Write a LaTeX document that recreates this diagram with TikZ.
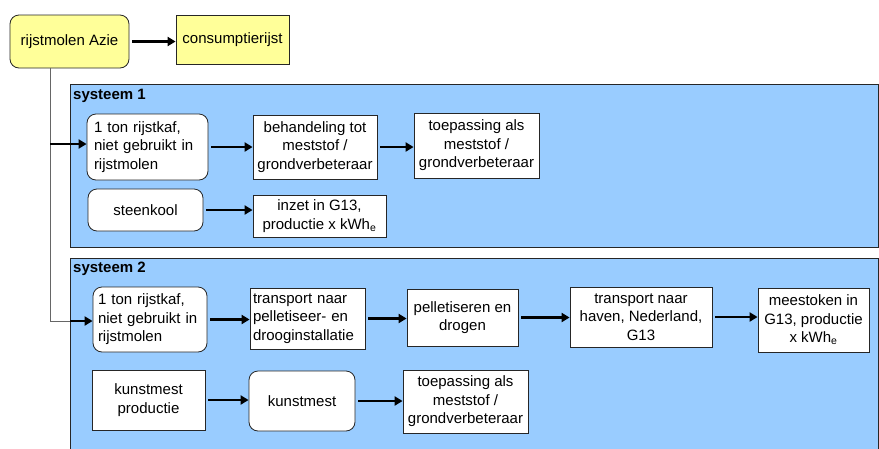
\documentclass[tikz,border=0pt]{standalone}
\usepackage{fontspec}
\setmainfont{Liberation Sans}
\definecolor{molen}{RGB}{255, 255, 153}
\definecolor{sys}{RGB}{153, 204, 255}
\usetikzlibrary{arrows.meta}
\usetikzlibrary{calc}

\tikzset{
    stap/.style={draw=black!85, line width=0.8pt, fill=white, align=center,
        inner sep=2pt, font=\fontsize{15}{18.5}\selectfont},
    rstap/.style={stap, rounded corners=9pt},
    pijl/.style={line width=2.6pt, -{Triangle[length=8pt,width=9pt]}, shorten <=3pt},
    kop/.style={anchor=west, inner sep=0pt, font=\fontsize{15}{18}\selectfont\bfseries}
}

\begin{document}
\begin{tikzpicture}[x=1pt,y=-1pt]
	\clip (0,0) rectangle (879,448);
	\fill[white] (0,0) rectangle (879,448);
	
	% systeemkaders
	\filldraw[fill=sys,draw=black!85,line width=0.8pt] (70,84) rectangle (878,247);
	\filldraw[fill=sys,draw=black!85,line width=0.8pt] (70,258) rectangle (878,470);
	\node[kop] (kop1) at (73,96) {systeem 1};
	\node[kop] (kop2) at (73,269) {systeem 2};
	
	\node[rstap,fill=molen,minimum width=119pt,minimum height=53pt] (azie) at (69.5,41.5) {rijstmolen Azie};
	\node[stap,fill=molen,minimum width=113pt,minimum height=49pt] (cons) at (232.5,39.5) {consumptierijst};
	\draw[pijl] (azie.east) -- (azie.east -| cons.west);
	
	% systeem 1
	\node[rstap,align=left,minimum width=121pt,minimum height=66pt,text width=107pt] (kaf1) at (147.5,147) {1 ton rijstkaf,\\niet gebruikt in\\rijstmolen};
	\node[stap,minimum width=124pt,minimum height=64pt] (behandel) at (315,147) {behandeling tot\\meststof /\\grondverbeteraar};
	\node[stap,minimum width=125pt,minimum height=65pt] (toep1) at (476.5,145.5) {toepassing als\\meststof /\\grondverbeteraar};
	\node[rstap,minimum width=115pt,minimum height=42pt] (kool) at (145.5,210) {steenkool};
	\node[stap,minimum width=133pt,minimum height=42pt] (inzet) at (319.5,216) {inzet in G13,\\productie x kWh\textsubscript{e}};
	
	\draw[pijl] (kaf1.east) -- (kaf1.east -| behandel.west);
	\draw[pijl] (behandel.east) -- (behandel.east -| toep1.west);
	\draw[pijl] (kool.east) -- (kool.east -| inzet.west);
	
	% systeem 2
	\node[rstap,align=left,minimum width=114pt,minimum height=65pt,text width=104pt] (kaf2) at (150,319.5) {1 ton rijstkaf,\\niet gebruikt in\\rijstmolen};
	\node[stap,align=left,minimum width=115pt,minimum height=61pt,text width=109pt] (trans1) at (307.5,318.5) {transport naar\\pelletiseer- en\\drooginstallatie};
	\node[stap,minimum width=111pt,minimum height=57pt] (pellet) at (462.5,317.5) {pelletiseren en\\drogen};
	\node[stap,minimum width=142pt,minimum height=60pt] (trans2) at (641,317) {transport naar\\haven, Nederland,\\G13};
	\node[stap,minimum width=111pt,minimum height=64pt] (stook) at (813.5,320) {meestoken in\\G13, productie\\x kWh\textsubscript{e}};
	\node[stap,minimum width=113pt,minimum height=60pt] (kmprod) at (148.5,400) {kunstmest\\productie};
	\node[rstap,minimum width=106pt,minimum height=60pt] (kunstmest) at (302,401) {kunstmest};
	\node[stap,minimum width=125pt,minimum height=63pt] (toep2) at (465.5,401.5) {toepassing als\\meststof /\\grondverbeteraar};
	
	\draw[pijl] (kaf2.east) -- (kaf2.east -| trans1.west);
	\draw[pijl] (trans1.east) -- (trans1.east -| pellet.west);
	\draw[pijl] (pellet.east) -- (pellet.east -| trans2.west);
	\draw[pijl] (trans2.east) -- (trans2.east -| stook.west);
	\draw[pijl] (kmprod.east) -- (kmprod.east -| kunstmest.west);
	\draw[pijl] (kunstmest.east) -- (kunstmest.east -| toep2.west);
	
	% aftakking vanuit de rijstmolen
	\coordinate (stam) at (50,68);
	\coordinate (tak1) at (50,144);
	\coordinate (tak2) at (50,321);
	\coordinate (rand2) at (70,321);
	\draw[black!60,line width=0.8pt] (stam) -- (tak2) -- (rand2);
	\draw[pijl,shorten <=0pt] (tak1) -- (tak1 -| kaf1.west);
	\draw[pijl,shorten <=0pt] (rand2) -- (rand2 -| kaf2.west);
\end{tikzpicture}
\end{document}
